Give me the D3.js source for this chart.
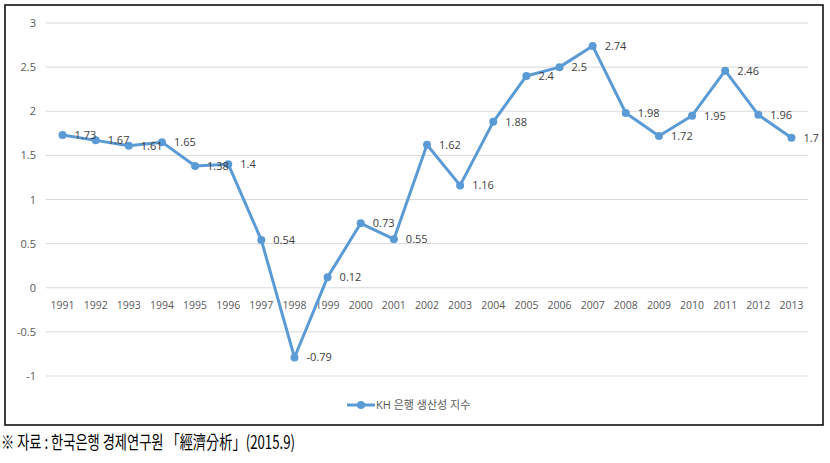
<!DOCTYPE html>
<html>
<head>
<meta charset="utf-8">
<script src="https://cdn.jsdelivr.net/npm/d3@7"></script>
<style>
  body { margin: 0; background: #fff; }
  svg text { font-family: "Open Sans", "Noto Sans CJK KR", sans-serif; }
</style>
</head>
<body>
<svg id="chart" width="830" height="463"></svg>
<script>
// data
var years = ["1991","1992","1993","1994","1995","1996","1997","1998","1999","2000","2001","2002",
             "2003","2004","2005","2006","2007","2008","2009","2010","2011","2012","2013"];
var index = [1.73,1.67,1.61,1.65,1.38,1.4,0.54,-0.79,0.12,0.73,0.55,1.62,
             1.16,1.88,2.4,2.5,2.74,1.98,1.72,1.95,2.46,1.96,1.7];
var yTicks = [-1,-0.5,0,0.5,1,1.5,2,2.5,3];
var seriesName = "KH 은행 생산성 지수";
var caption = "※ 자료 : 한국은행 경제연구원 「經濟分析」(2015.9)";

var blue = "#5b9bd5";
var svg = d3.select("svg#chart");

// outer frame
svg.append("rect")
  .attr("x", 5).attr("y", 5)
  .attr("width", 818).attr("height", 420)
  .attr("fill", "none")
  .attr("stroke", "#000")
  .attr("stroke-width", 1.5);

var x = d3.scaleBand()
  .domain(years)
  .range([46, 808]);

var y = d3.scaleLinear()
  .domain([-1, 3])
  .range([376, 23]);

// gridlines
svg.append("g")
  .selectAll("line")
  .data(yTicks)
  .join("line")
    .attr("x1", 46).attr("x2", 808)
    .attr("y1", d => y(d)).attr("y2", d => y(d))
    .attr("stroke", "#d9d9d9")
    .attr("stroke-width", 1);

// y axis labels
svg.append("g")
  .selectAll("text")
  .data(yTicks)
  .join("text")
    .attr("x", 36)
    .attr("y", d => y(d) + 4)
    .attr("text-anchor", "end")
    .attr("font-size", 11)
    .attr("fill", "#595959")
    .text(d => d);

// x axis labels, sitting under the zero line
svg.append("g")
  .selectAll("text")
  .data(years)
  .join("text")
    .attr("x", d => x(d) + x.bandwidth() / 2)
    .attr("y", y(0) + 21)
    .attr("text-anchor", "middle")
    .attr("font-size", 10.5)
    .attr("fill", "#595959")
    .text(d => d);

var pts = years.map((yr, i) => ({ year: yr, v: index[i] }));

var line = d3.line()
  .x(d => x(d.year) + x.bandwidth() / 2)
  .y(d => y(d.v));

svg.append("path")
  .datum(pts)
  .attr("d", line)
  .attr("fill", "none")
  .attr("stroke", blue)
  .attr("stroke-width", 3)
  .attr("stroke-linejoin", "round");

svg.append("g")
  .selectAll("circle")
  .data(pts)
  .join("circle")
    .attr("cx", d => x(d.year) + x.bandwidth() / 2)
    .attr("cy", d => y(d.v))
    .attr("r", 4)
    .attr("fill", blue);

// data labels
svg.append("g")
  .selectAll("text")
  .data(pts)
  .join("text")
    .attr("x", d => x(d.year) + x.bandwidth() / 2 + 12)
    .attr("y", d => y(d.v) + 4)
    .attr("font-size", 11)
    .attr("fill", "#404040")
    .text(d => d.v);

// legend
var lg = svg.append("g").attr("transform", "translate(347,405)");
lg.append("line")
  .attr("x1", 0).attr("x2", 28)
  .attr("stroke", blue).attr("stroke-width", 3);
lg.append("circle").attr("cx", 14).attr("r", 4).attr("fill", blue);
lg.append("text")
  .attr("x", 29).attr("y", 4)
  .attr("font-size", 11)
  .attr("fill", "#595959")
  .text(seriesName);

// source caption
svg.append("text")
  .attr("x", 1).attr("y", 449)
  .attr("font-size", 18)
  .attr("fill", "#000")
  .attr("textLength", 294)
  .attr("lengthAdjust", "spacingAndGlyphs")
  .style("font-family", "'Noto Sans CJK KR', sans-serif")
  .text(caption);
</script>
</body>
</html>
